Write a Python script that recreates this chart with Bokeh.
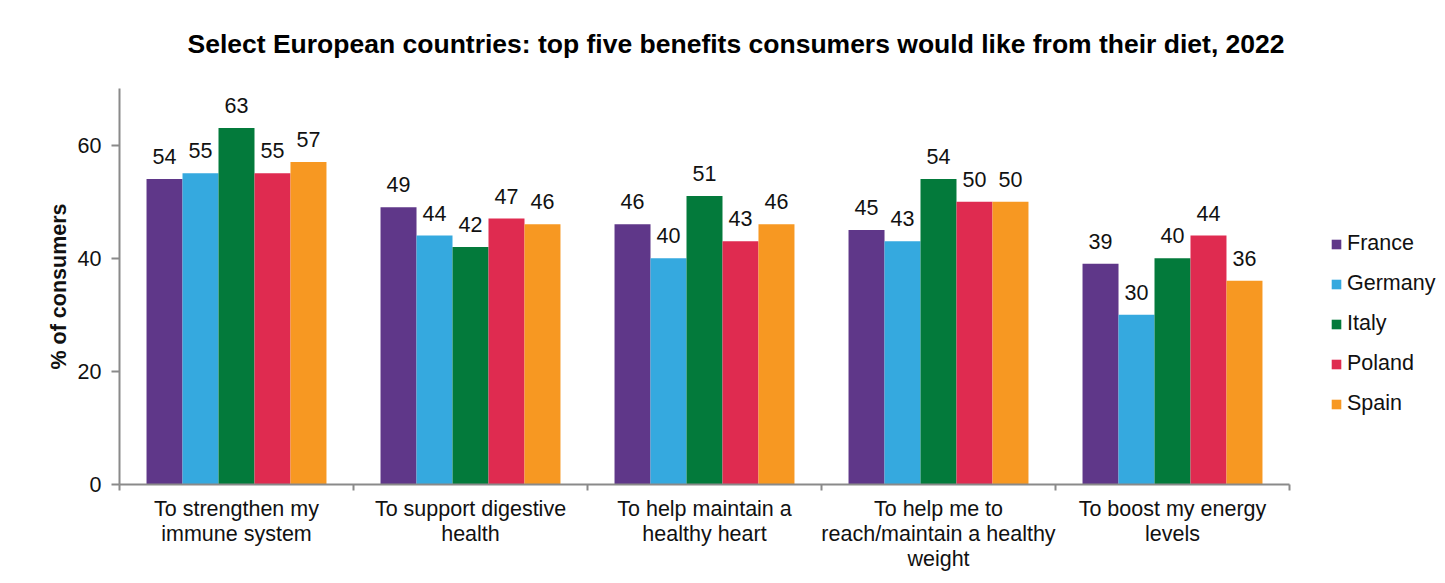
from bokeh.plotting import figure
from bokeh.models import ColumnDataSource, Range1d, FixedTicker, Legend, LegendItem, LabelSet
from bokeh.core.properties import value
from bokeh.transform import dodge
from bokeh.embed import file_html
from bokeh.resources import INLINE

categories = ["To strengthen my\nimmune system", "To support digestive\nhealth",
              "To help maintain a\nhealthy heart", "To help me to\nreach/maintain a healthy\nweight",
              "To boost my energy\nlevels"]
countries = ["France", "Germany", "Italy", "Poland", "Spain"]
france = [54, 49, 46, 45, 39]
germany = [55, 44, 40, 43, 30]
italy = [63, 42, 51, 54, 40]
poland = [55, 47, 43, 50, 44]
spain = [57, 46, 46, 50, 36]
colors = ["#5F3789", "#35A9DF", "#037A3B", "#DF2B50", "#F79822"]
y_ticks = [0, 20, 40, 60]

series = [france, germany, italy, poland, spain]
centers = [i + 0.5 for i in range(len(categories))]
bw = 0.1538

p = figure(frame_width=1170, frame_height=396, x_range=Range1d(0, 5), y_range=Range1d(0, 70),
           output_backend="svg", toolbar_location=None, min_border_left=119, min_border_right=156,
           min_border_top=88, min_border_bottom=99)
p.outline_line_color = None
p.grid.grid_line_color = None
p.background_fill_color = "white"
p.border_fill_color = "white"

FONT = "Liberation Sans"
FS = "21.5px"
p.title.text = "Select European countries: top five benefits consumers would like from their diet, 2022"
p.title.text_font = FONT
p.title.text_font_size = "26.5px"
p.title.text_font_style = "bold"
p.title.text_color = "#000000"
p.title.align = "left"
p.title.offset = 68
p.title.standoff = 56
p.title.vertical_align = "top"

items = []
for k, (name, vals, col) in enumerate(zip(countries, series, colors)):
    src = ColumnDataSource(dict(x=centers, y=vals, lab=[str(v) for v in vals]))
    off = (k - 2) * bw
    r = p.vbar(x=dodge("x", off), top="y", width=bw, source=src, fill_color=col, line_color=None)
    items.append(LegendItem(label=name, renderers=[r]))
    lbl = LabelSet(x=dodge("x", off), y="y", text="lab", source=src, text_align="center",
                   text_baseline="bottom", y_offset=15, text_font=value(FONT), text_font_size=FS,
                   text_color="#111111")
    p.add_layout(lbl)

legend = Legend(items=items, location=(41, 68), margin=0, padding=0, spacing=15,
                glyph_width=12, glyph_height=12, label_height=22, label_standoff=5,
                label_text_font=FONT, label_text_font_size=FS, label_text_color="#111111",
                border_line_color=None, background_fill_alpha=0)
p.add_layout(legend, "right")

xa = p.xaxis[0]
xa.ticker = FixedTicker(ticks=centers, minor_ticks=[0, 1, 2, 3, 4, 5])
xa.major_label_overrides = {c: cat for c, cat in zip(centers, categories)}
xa.major_tick_line_color = None
xa.major_tick_out = 0
xa.minor_tick_in = 0
xa.minor_tick_out = 6
xa.minor_tick_line_color = "#8a8a8a"
xa.axis_line_color = "#8a8a8a"
xa.axis_line_width = 2
xa.minor_tick_line_width = 2
xa.major_label_text_font = FONT
xa.major_label_text_font_size = FS
xa.major_label_text_line_height = 1.05
xa.major_label_text_color = "#111111"
xa.major_label_standoff = 6

ya = p.yaxis[0]
ya.ticker = FixedTicker(ticks=y_ticks)
ya.minor_tick_line_color = None
ya.major_tick_in = 0
ya.major_tick_out = 8
ya.major_tick_line_color = "#8a8a8a"
ya.major_tick_line_width = 2
ya.axis_line_color = "#8a8a8a"
ya.axis_line_width = 2
ya.major_label_text_font = FONT
ya.major_label_text_font_size = FS
ya.major_label_text_color = "#111111"
ya.major_label_standoff = 10
ya.axis_label = "% of consumers"
ya.axis_label_text_font = FONT
ya.axis_label_text_font_size = FS
ya.axis_label_text_font_style = "bold"
ya.axis_label_text_color = "#111111"
ya.axis_label_standoff = 4

open("out.html", "w").write(file_html(p, INLINE))
